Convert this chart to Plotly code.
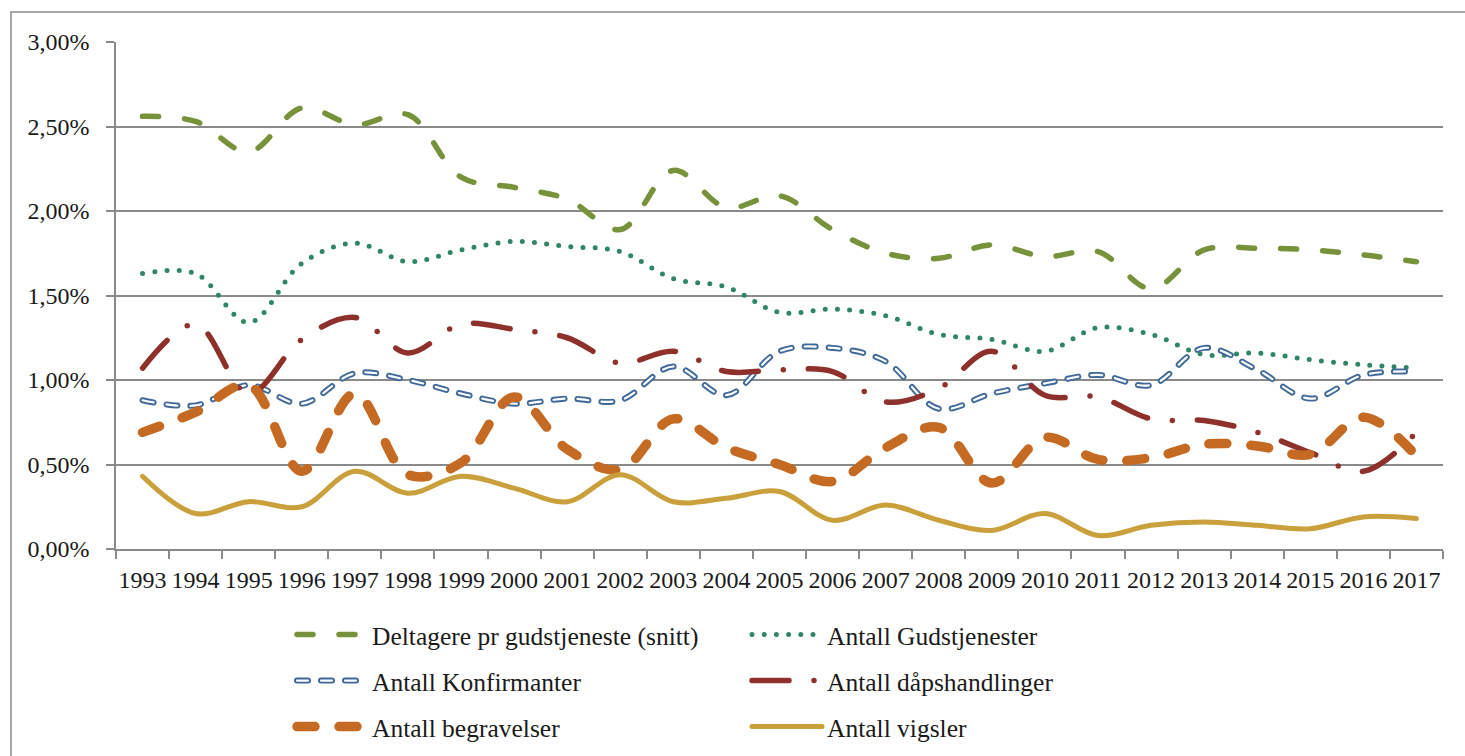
import plotly.graph_objects as go

years = ["1993", "1994", "1995", "1996", "1997", "1998", "1999", "2000", "2001",
         "2002", "2003", "2004", "2005", "2006", "2007", "2008", "2009", "2010",
         "2011", "2012", "2013", "2014", "2015", "2016", "2017"]

# values in percent
deltagere = [2.56, 2.53, 2.35, 2.61, 2.51, 2.57, 2.20, 2.14, 2.07, 1.89, 2.24, 2.02, 2.09,
             1.89, 1.75, 1.72, 1.80, 1.73, 1.76, 1.54, 1.77, 1.78, 1.77, 1.74, 1.70]
gudstjenester = [1.63, 1.63, 1.34, 1.69, 1.81, 1.70, 1.77, 1.82, 1.79, 1.76, 1.60, 1.55, 1.40,
                 1.42, 1.38, 1.27, 1.24, 1.17, 1.31, 1.27, 1.15, 1.16, 1.12, 1.09, 1.07]
konfirmanter = [0.88, 0.85, 0.97, 0.86, 1.04, 1.00, 0.92, 0.86, 0.89, 0.88, 1.08, 0.91, 1.17,
                1.19, 1.11, 0.83, 0.92, 0.98, 1.03, 0.97, 1.19, 1.06, 0.89, 1.03, 1.05]
daap = [1.07, 1.33, 0.92, 1.24, 1.37, 1.16, 1.33, 1.30, 1.25, 1.10, 1.17, 1.05, 1.06,
        1.05, 0.87, 0.95, 1.17, 0.91, 0.90, 0.77, 0.76, 0.69, 0.57, 0.46, 0.69]
begravelser = [0.69, 0.81, 0.97, 0.46, 0.92, 0.44, 0.51, 0.90, 0.59, 0.47, 0.77, 0.60, 0.50,
               0.40, 0.60, 0.72, 0.39, 0.66, 0.53, 0.54, 0.62, 0.61, 0.56, 0.78, 0.55]
vigsler = [0.43, 0.21, 0.28, 0.25, 0.46, 0.33, 0.43, 0.36, 0.28, 0.44, 0.28, 0.30, 0.34,
           0.17, 0.26, 0.17, 0.11, 0.21, 0.08, 0.14, 0.16, 0.14, 0.12, 0.19, 0.18]

names = ["Deltagere pr gudstjeneste (snitt)", "Antall Gudstjenester",
         "Antall Konfirmanter", "Antall dåpshandlinger",
         "Antall begravelser", "Antall vigsler"]

W, H = 1465, 756
L, R, T, B = 116, 22, 42, 207
PW, PH = W - L - R, H - T - B

def px_x(p):
    return (p - L) / PW

def px_y(p):
    return (H - B - p) / PH

def cx(p):
    return p / W

def cy(p):
    return 1 - p / H

def pct(vals):
    return [v / 100 for v in vals]

FONT = "Liberation Serif"

fig = go.Figure()

def add(name, vals, color, width, dash, legend, showlegend=True, group=None):
    fig.add_trace(go.Scatter(
        x=years, y=pct(vals), name=name, mode="lines",
        line=dict(color=color, width=width, dash=dash, shape="spline", smoothing=1),
        legend=legend, showlegend=showlegend, legendgroup=group or name,
        hoverinfo="skip"))

add(names[0], deltagere, "#77923A", 5.5, "16px,26px", "legend")
add(names[1], gudstjenester, "#2E8662", 5, "0px,12.2px", "legend")
add(names[2], konfirmanter, "#40699A", 6, "11px,13px", "legend2")
add(names[2] + " inner", konfirmanter, "#FFFFFF", 2.2, "11px,13px", "legend2",
    showlegend=False, group=names[2])
add(names[3], daap, "#8E312C", 5.5, "37px,25px,0px,25px", "legend2")
add(names[4], begravelser, "#C46A22", 9.5, "18px,24px", "legend3")
add(names[5], vigsler, "#C9A03B", 5, "solid", "legend3")

leg_common = dict(orientation="h", xref="container", yref="container", xanchor="left",
                  yanchor="middle", x=cx(292), entrywidth=370, entrywidthmode="pixels",
                  itemwidth=70, font=dict(family=FONT, size=25.5, color="#1a1a1a"),
                  bgcolor="rgba(0,0,0,0)", borderwidth=0, itemclick=False,
                  itemdoubleclick=False)

fig.update_layout(
    width=W, height=H,
    margin=dict(l=L, r=R, t=T, b=B, pad=0, autoexpand=False),
    paper_bgcolor="white", plot_bgcolor="white",
    separators=", ",
    font=dict(family=FONT, size=24, color="#1a1a1a"),
    legend=dict(leg_common, y=cy(635)),
    legend2=dict(leg_common, y=cy(681)),
    legend3=dict(leg_common, y=cy(727)),
    xaxis=dict(type="category", tickson="boundaries", ticks="outside", ticklen=8,
               tickcolor="#8a8a8a", tickwidth=1.5, showline=True, linecolor="#8a8a8a",
               linewidth=1.5, showgrid=False, tickangle=0, ticklabelstandoff=8,
               tickfont=dict(family=FONT, size=24, color="#1a1a1a"),
               range=[-0.5, 24.5], fixedrange=True, automargin=False),
    yaxis=dict(range=[0, 0.03], dtick=0.005, tick0=0, tickformat=".2%",
               ticks="outside", ticklen=8, tickcolor="#8a8a8a", tickwidth=1.5,
               showline=True, linecolor="#8a8a8a", linewidth=1.5,
               showgrid=True, gridcolor="#8a8a8a", gridwidth=1.5, zeroline=False,
               ticklabelstandoff=12, automargin=False,
               tickfont=dict(family=FONT, size=24, color="#1a1a1a"), fixedrange=True),
    shapes=[dict(type="rect", xref="paper", yref="paper",
                 x0=px_x(11), x1=px_x(1475), y0=px_y(770), y1=px_y(12),
                 line=dict(color="#8c8c8c", width=1.5), fillcolor="rgba(0,0,0,0)",
                 layer="below")],
)

post = """
document.body.style.margin = '0';
document.body.style.overflow = 'hidden';
var gd = document.getElementById('{plot_id}');
function fix(){
  gd.querySelectorAll('path.js-line').forEach(function(p){
    p.style.strokeLinecap = 'round';
    p.style.strokeLinejoin = 'round';
  });
  gd.querySelectorAll('g.traces').forEach(function(t){
    var txt = t.querySelector('text');
    if (txt && txt.textContent.indexOf('Konfirmanter') >= 0 && !t.querySelector('.inner-white')) {
      var p = t.querySelector('path.js-line');
      if (p) {
        var c = p.cloneNode(true);
        c.classList.add('inner-white');
        c.style.stroke = '#ffffff';
        c.style.strokeWidth = '2.2px';
        p.parentNode.appendChild(c);
      }
    }
  });
}
fix();
"""

fig.write_html("out.html", post_script=post, config={"displayModeBar": False})
